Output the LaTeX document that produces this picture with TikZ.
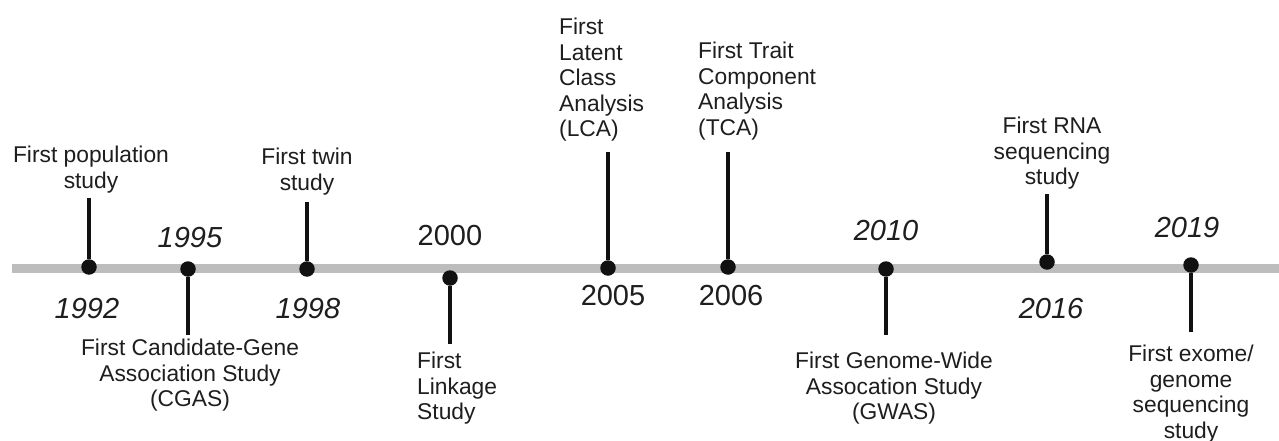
\documentclass[tikz,border=0pt]{standalone}
\usepackage{fontspec}
\setmainfont{Liberation Sans}
\definecolor{barcol}{HTML}{BDBDBD}
\definecolor{txt}{HTML}{1E1E1E}
\definecolor{stemcol}{HTML}{111111}
\begin{document}
\begin{tikzpicture}[x=1pt,y=-1pt,
  lbl/.style={inner sep=0pt, text=txt, font=\fontsize{22.8}{25.5}\selectfont},
  lblc/.style={lbl, align=center, anchor=north},
  lbll/.style={lbl, align=left, anchor=north west},
  yri/.style={inner sep=0pt, anchor=base, text=txt, font=\fontsize{29}{30}\selectfont\itshape},
  yru/.style={inner sep=0pt, anchor=base, text=txt, font=\fontsize{29}{30}\selectfont},
  dotn/.style={circle, fill=stemcol, inner sep=0pt, minimum size=15.5pt},
  stem/.style={draw=stemcol, line width=4pt},
  bar/.style={draw=barcol, line width=9pt}]
\useasboundingbox (0,0) rectangle (1279,441);
\fill[white] (0,0) rectangle (1279,441);
% timeline bar
\coordinate (bl) at (12,268);
\coordinate (br) at (1279,268);
\draw[bar] (bl) -- (br);
% stem end points
\coordinate (s92) at (89,198);
\coordinate (s95) at (188,335);
\coordinate (s98) at (307,202);
\coordinate (s00) at (450,344);
\coordinate (s05) at (608,152);
\coordinate (s06) at (728,152);
\coordinate (s10) at (886,335);
\coordinate (s16) at (1047,194);
\coordinate (s19) at (1191,332);
% dots
\node[dotn] (d92) at (89,267) {};
\node[dotn] (d95) at (188,269) {};
\node[dotn] (d98) at (307,269) {};
\node[dotn] (d00) at (450,278) {};
\node[dotn] (d05) at (608,268) {};
\node[dotn] (d06) at (728,267) {};
\node[dotn] (d10) at (886,269) {};
\node[dotn] (d16) at (1047,262) {};
\node[dotn] (d19) at (1191,265) {};
% stems
\draw[stem] (d92) -- (s92);
\draw[stem] (d95) -- (s95);
\draw[stem] (d98) -- (s98);
\draw[stem] (d00) -- (s00);
\draw[stem] (d05) -- (s05);
\draw[stem] (d06) -- (s06);
\draw[stem] (d10) -- (s10);
\draw[stem] (d16) -- (s16);
\draw[stem] (d19) -- (s19);
% labels
\node[lblc] (l92) at (91,146) {First population\\study};
\node[lblc] (l95) at (190,339) {First Candidate-Gene\\Association Study\\(CGAS)};
\node[lblc] (l98) at (307,148) {First twin\\study};
\node[lbll] (l00) at (417,352) {First\\Linkage\\Study};
\node[lbll] (l05) at (559,18) {First\\Latent\\Class\\Analysis\\(LCA)};
\node[lbll] (l06) at (698,42) {First Trait\\Component\\Analysis\\(TCA)};
\node[lblc] (l10) at (894,352) {First Genome-Wide\\Assocation Study\\(GWAS)};
\node[lblc] (l16) at (1052,117) {First RNA\\sequencing\\study};
\node[lblc] (l19) at (1191,345) {First exome/\\genome\\sequencing\\study};
% years
\node[yri] (y92) at (87,318) {1992};
\node[yri] (y95) at (190,247) {1995};
\node[yri] (y98) at (308,318) {1998};
\node[yru] (y00) at (450,245) {2000};
\node[yru] (y05) at (613,305) {2005};
\node[yru] (y06) at (731,305) {2006};
\node[yri] (y10) at (886,240) {2010};
\node[yri] (y16) at (1051,318) {2016};
\node[yri] (y19) at (1187,237) {2019};
\end{tikzpicture}
\end{document}
